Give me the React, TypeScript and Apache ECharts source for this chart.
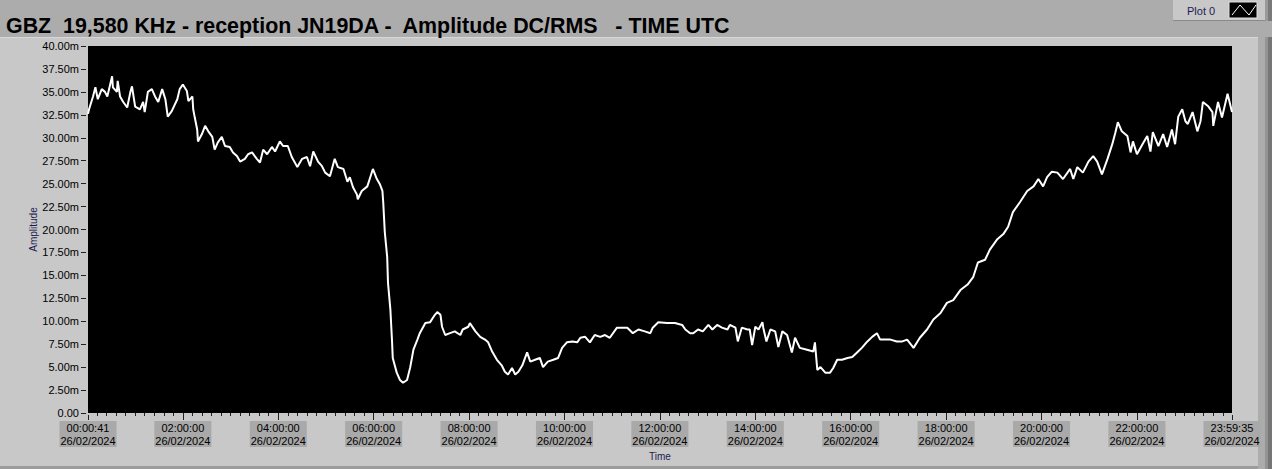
import React, { useEffect, useRef } from 'react';
import * as echarts from 'echarts';

const TITLE = 'GBZ  19,580 KHz - reception JN19DA -  Amplitude DC/RMS   - TIME UTC';
const LEGEND_NAME = 'Plot 0';
const X_NAME = 'Time';
const Y_NAME = 'Amplitude';
const DATE_LABEL = '26/02/2024';

// time axis (minutes after midnight)
const xMin = 41 / 60;
const xMax = 86375 / 60;
const xTickTimes = [41 / 60, 120, 240, 360, 480, 600, 720, 840, 960, 1080, 1200, 1320, 86375 / 60];
const xTickLabels = ['00:00:41', '02:00:00', '04:00:00', '06:00:00', '08:00:00', '10:00:00', '12:00:00', '14:00:00', '16:00:00', '18:00:00', '20:00:00', '22:00:00', '23:59:35'];
const yMin = 0;
const yMax = 40;
const yStep = 2.5;

// amplitude in mV: [minute of day, value]
const night: [number, number][] = [
  [0.68, 32.6], [2, 33.1], [7, 34.5], [10, 35.5], [13, 34.2], [18, 35.3], [22, 35.0], [25, 34.5], [31, 36.7], [32, 35.5],
  [37, 35.0], [38, 36.2], [41, 34.5], [45, 33.9], [50, 33.3], [54, 35.0], [56, 35.6], [60, 33.4], [66, 33.1], [70, 33.9],
  [72, 32.8], [76, 35.0], [81, 35.3], [85, 34.5], [89, 33.9], [94, 35.3], [98, 34.2], [101, 32.3], [106, 32.9], [113, 34.2],
  [116, 35.3], [120, 35.8], [125, 35.1], [127, 34.0], [132, 34.5], [133, 33.1], [135, 32.2], [138, 30.9], [139, 29.6], [144, 30.4],
  [148, 31.3], [152, 30.7], [157, 30.1], [160, 28.7], [164, 29.5], [169, 30.1], [173, 29.1], [179, 29.0], [183, 28.4], [188, 28.0],
  [192, 27.4], [198, 27.7], [202, 28.2], [207, 28.4], [213, 27.7], [217, 27.3], [221, 28.7], [226, 28.2], [232, 29.0], [236, 28.5],
  [242, 29.6], [246, 29.1], [252, 29.1], [257, 27.9], [264, 26.8], [270, 27.7], [276, 27.9], [280, 26.9], [284, 28.5], [290, 27.4],
  [295, 26.9], [299, 26.2], [305, 25.8], [311, 27.7], [315, 26.8], [322, 26.6], [327, 25.2], [330, 25.7], [334, 24.6], [339, 23.8],
  [340, 23.3], [345, 24.2], [352, 24.7], [355, 25.5], [359, 26.6], [364, 25.5], [368, 24.9], [371, 24.2], [372, 23.0],
];
const dip: [number, number][] = [
  [374, 19.7], [377, 17.0], [378, 14.2], [381, 11.3], [383, 8.0], [384, 6.0], [389, 4.4], [393, 3.6], [397, 3.3], [402, 3.6],
  [406, 5.0], [410, 6.9], [415, 8.0], [418, 8.7], [425, 9.8], [431, 9.9], [437, 10.7], [440, 11.0], [444, 10.7], [446, 9.4],
  [450, 8.5], [456, 8.7], [462, 8.9], [469, 8.5], [472, 9.1], [479, 9.4], [481, 9.8], [488, 8.9], [494, 8.3], [500, 8.0],
  [504, 7.7], [509, 6.7], [515, 5.8], [521, 5.2], [525, 4.5], [529, 4.2], [534, 4.9], [538, 4.2], [542, 4.5], [547, 5.2],
  [553, 6.6], [557, 5.6], [563, 5.8], [569, 6.0], [573, 5.0], [579, 5.6], [586, 5.8], [592, 6.0],
];
const day: [number, number][] = [
  [597, 7.1], [603, 7.7], [610, 7.8], [616, 7.7], [620, 8.2], [626, 8.3], [632, 7.7], [638, 8.5], [645, 8.3], [651, 8.5],
  [657, 8.2], [666, 9.3], [672, 9.3], [679, 9.3], [686, 8.7], [693, 9.1], [701, 8.9], [708, 8.7], [711, 9.3], [718, 9.9],
  [729, 9.8], [739, 9.8], [748, 9.6], [752, 9.1], [758, 8.7], [762, 8.7], [768, 9.1], [774, 8.9], [781, 9.6], [786, 9.1],
  [792, 9.6], [798, 9.3], [805, 9.1], [808, 9.6], [815, 9.3], [818, 7.8], [823, 9.3], [830, 9.1], [833, 9.1], [836, 7.4],
  [840, 9.4], [844, 9.1], [849, 9.9], [850, 9.3], [854, 7.8], [859, 9.1], [865, 8.9], [869, 7.2], [874, 8.9], [880, 8.5],
  [886, 6.6], [890, 8.2], [896, 7.1], [905, 6.9], [913, 6.7], [915, 7.7], [918, 4.7], [922, 5.0], [928, 4.4], [934, 4.4],
  [938, 4.9], [943, 5.8], [949, 5.8], [956, 6.0], [962, 6.1], [968, 6.6], [974, 7.1], [981, 7.8], [987, 8.3], [993, 8.7],
  [997, 8.0], [1003, 8.0], [1010, 8.0], [1018, 7.8], [1025, 7.8], [1031, 8.0], [1039, 7.1],
];
const evening: [number, number][] = [
  [1047, 8.2], [1056, 9.1], [1064, 10.2], [1073, 10.9], [1081, 12.0], [1089, 12.3], [1098, 13.4], [1107, 14.0], [1114, 14.8], [1120, 16.4],
  [1129, 16.7], [1135, 17.8], [1144, 18.9], [1152, 19.5], [1158, 20.3], [1164, 21.9], [1173, 23.0], [1182, 24.2], [1190, 24.7], [1196, 25.5],
  [1202, 24.7], [1207, 25.7], [1213, 26.3], [1220, 26.2], [1227, 25.5], [1236, 26.6], [1240, 25.5], [1245, 26.8], [1252, 26.2], [1259, 27.4],
  [1265, 28.0], [1270, 27.4], [1276, 26.0], [1283, 27.7], [1289, 29.3], [1293, 30.6], [1296, 31.7], [1301, 30.7], [1308, 30.2], [1312, 28.4],
  [1315, 29.6], [1320, 28.2], [1327, 29.3], [1333, 30.2], [1337, 28.5], [1340, 30.6], [1347, 29.1], [1353, 30.4], [1358, 29.0], [1364, 30.9],
  [1368, 29.3], [1372, 32.3], [1377, 33.1], [1381, 31.8], [1384, 31.5], [1390, 32.8], [1396, 30.7], [1400, 31.8], [1403, 33.9], [1410, 33.4],
  [1415, 32.8], [1416, 31.3], [1422, 33.9], [1427, 32.2], [1434, 34.8], [1439.58, 32.8],
];

const FONT = '"Liberation Sans", Arial, sans-serif';

export default function App() {
  const ref = useRef<HTMLDivElement>(null);
  useEffect(() => {
    document.body.style.margin = '0';
    if (!ref.current) return;
    const chart = echarts.init(ref.current, undefined, { renderer: 'svg' });

    const minorTicks: number[] = [];
    for (let m = 12; m < xMax; m += 12) minorTicks.push(m);
    const data = [...night, ...dip, ...day, ...evening];

    const fmtX = (v: number) => {
      const i = xTickTimes.findIndex((t) => Math.abs(t - v) < 0.01);
      return i >= 0 ? `${xTickLabels[i]}\n${DATE_LABEL}` : '';
    };

    chart.setOption({
      animation: false,
      backgroundColor: '#c8c8c8',
      title: {
        text: TITLE,
        left: 1,
        top: 10,
        textStyle: { fontFamily: FONT, fontSize: 21.4, fontWeight: 'bold', color: '#000' },
      },
      grid: { left: 88, right: 40, top: 46, bottom: 56, show: true, backgroundColor: '#000', borderWidth: 0 },
      xAxis: [
        {
          type: 'value',
          min: xMin,
          max: xMax,
          position: 'bottom',
          offset: 2,
          name: X_NAME,
          nameLocation: 'middle',
          nameGap: 36,
          nameMoveOverlap: false,
          nameTextStyle: { fontFamily: FONT, fontSize: 10, color: '#1c1c50' },
          axisLine: { show: false },
          splitLine: { show: false },
          axisTick: { show: true, length: 3, customValues: minorTicks, lineStyle: { color: '#202020' } },
          axisLabel: {
            customValues: xTickTimes,
            formatter: fmtX,
            margin: 6,
            fontFamily: FONT,
            fontSize: 11,
            lineHeight: 13,
            color: '#000',
            backgroundColor: '#a9a9a9',
            padding: [0, 1, 0, 1],
          },
        },
        {
          type: 'value',
          min: xMin,
          max: xMax,
          position: 'bottom',
          offset: 2,
          axisLine: { show: false },
          splitLine: { show: false },
          axisLabel: { show: false },
          axisTick: { show: true, length: 5, customValues: xTickTimes, lineStyle: { color: '#202020' } },
        },
      ],
      yAxis: {
        type: 'value',
        min: yMin,
        max: yMax,
        interval: yStep,
        offset: 2,
        name: Y_NAME,
        nameLocation: 'middle',
        nameGap: 48,
        nameMoveOverlap: false,
        nameRotate: 90,
        nameTextStyle: { fontFamily: FONT, fontSize: 10, color: '#1c1c50' },
        axisLine: { show: false },
        splitLine: { show: false },
        axisTick: { show: true, length: 5, lineStyle: { color: '#202020' } },
        axisLabel: {
          margin: 7,
          fontFamily: FONT,
          fontSize: 11,
          color: '#000',
          formatter: (v: number) => (v === 0 ? '0.00' : v.toFixed(2) + 'm'),
        },
      },
      series: [
        {
          name: LEGEND_NAME,
          type: 'line',
          xAxisIndex: 0,
          data,
          showSymbol: false,
          lineStyle: { color: '#ffffff', width: 2 },
          z: 3,
        },
      ],
      graphic: [
        { type: 'rect', z: 0, shape: { x: 0, y: 0, width: 1272, height: 37 }, style: { fill: '#acacac' } },
        { type: 'rect', z: 0, shape: { x: 0, y: 37, width: 1258, height: 1 }, style: { fill: '#d8d8d8' } },
        { type: 'rect', z: 0, shape: { x: 1258, y: 37, width: 7, height: 432 }, style: { fill: '#acacac' } },
        { type: 'rect', z: 0, shape: { x: 1265, y: 37, width: 3, height: 432 }, style: { fill: '#939393' } },
        { type: 'rect', z: 0, shape: { x: 1268, y: 37, width: 4, height: 432 }, style: { fill: '#767676' } },
        { type: 'rect', z: 0, shape: { x: 0, y: 466, width: 1258, height: 3 }, style: { fill: '#9c9c9c' } },
        { type: 'rect', z: 0, shape: { x: 1173, y: 0, width: 92, height: 20 }, style: { fill: '#c8c8c8' } },
        { type: 'rect', z: 0, shape: { x: 1173, y: 20, width: 92, height: 1 }, style: { fill: '#8a8a8a' } },
        { type: 'rect', z: 0, shape: { x: 1265, y: 0, width: 3, height: 21 }, style: { fill: '#9a9a9a' } },
        { type: 'rect', z: 0, shape: { x: 1268, y: 0, width: 4, height: 21 }, style: { fill: '#7a7a7a' } },
        {
          type: 'text',
          z: 1,
          x: 1187,
          y: 11,
          style: { text: LEGEND_NAME, fontFamily: FONT, fontSize: 11, fill: '#1c1c50', verticalAlign: 'middle' },
        },
        { type: 'rect', z: 1, shape: { x: 1229, y: 2, width: 28, height: 16 }, style: { fill: '#000', stroke: '#e0e0e0', lineWidth: 1 } },
        {
          type: 'polyline',
          z: 2,
          shape: { points: [[1232, 15], [1240, 5], [1249, 15], [1256, 5]] },
          style: { stroke: '#fff', lineWidth: 1, fill: 'none' },
        },
      ],
    });
    return () => chart.dispose();
  }, []);
  return <div ref={ref} style={{ width: 1272, height: 469 }} />;
}
